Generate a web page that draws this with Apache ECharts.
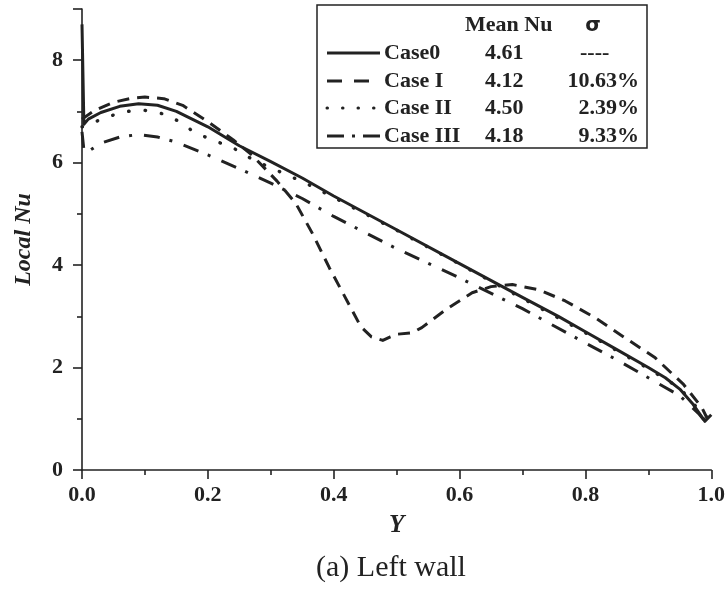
<!DOCTYPE html>
<html>
<head>
<meta charset="utf-8">
<script src="https://cdn.jsdelivr.net/npm/echarts@6/dist/echarts.min.js"></script>
<style>
html,body{margin:0;padding:0;background:#fff;}
#chart{width:728px;height:589px;}
</style>
</head>
<body>
<div id="chart"></div>
<script>
// ---- data ----
const seriesNames = ['Case0', 'Case I', 'Case II', 'Case III'];
const meanNu = ['4.61', '4.12', '4.50', '4.18'];
const sigma = ['----', '10.63%', '2.39%', '9.33%'];

const case0Y  = [0, 0.003, 0.01, 0.03, 0.06, 0.09, 0.12, 0.15, 0.2, 0.25, 0.3, 0.35, 0.4, 0.5, 0.6, 0.7, 0.757, 0.8, 0.85, 0.9, 0.927, 0.95, 0.97, 0.99, 1.0];
const case0Nu = [8.7, 6.75, 6.85, 6.98, 7.1, 7.15, 7.12, 7.0, 6.7, 6.33, 6.02, 5.7, 5.35, 4.69, 4.03, 3.37, 3.0, 2.7, 2.35, 2.0, 1.8, 1.58, 1.3, 0.95, 1.08];

const case1Y  = [0, 0.02, 0.05, 0.08, 0.1, 0.13, 0.16, 0.2, 0.24, 0.27, 0.31, 0.34, 0.367, 0.393, 0.417, 0.443, 0.46, 0.478, 0.49, 0.5, 0.525, 0.54, 0.578, 0.62, 0.65, 0.684, 0.726, 0.768, 0.816, 0.863, 0.911, 0.956, 0.985, 0.993, 1.0];
const case1Nu = [6.85, 7.02, 7.18, 7.26, 7.28, 7.25, 7.12, 6.8, 6.45, 6.15, 5.64, 5.2, 4.6, 3.95, 3.4, 2.8, 2.6, 2.53, 2.6, 2.65, 2.68, 2.78, 3.13, 3.46, 3.58, 3.62, 3.52, 3.3, 2.97, 2.58, 2.19, 1.67, 1.22, 1.02, 1.15];

const case2Y  = [0, 0.01, 0.03, 0.05, 0.07, 0.1, 0.13, 0.155, 0.18, 0.21, 0.24, 0.27, 0.3, 0.33, 0.36, 0.4, 0.45, 0.5, 0.6, 0.7, 0.8, 0.9, 0.95, 0.98, 0.99, 1.0];
const case2Nu = [6.7, 6.72, 6.85, 6.93, 7.0, 7.02, 6.95, 6.8, 6.58, 6.43, 6.29, 6.07, 5.9, 5.74, 5.57, 5.32, 5.0, 4.68, 4.02, 3.35, 2.68, 1.98, 1.6, 1.18, 0.95, 1.05];

const case3Y  = [0, 0.003, 0.01, 0.03, 0.06, 0.09, 0.12, 0.15, 0.2, 0.25, 0.3, 0.35, 0.4, 0.5, 0.6, 0.7, 0.8, 0.85, 0.9, 0.95, 0.98, 0.99, 1.0];
const case3Nu = [6.6, 6.25, 6.22, 6.38, 6.5, 6.55, 6.5, 6.4, 6.15, 5.88, 5.6, 5.3, 4.95, 4.32, 3.75, 3.15, 2.48, 2.15, 1.8, 1.45, 1.1, 0.95, 1.0];

const xTicks = [0, 0.2, 0.4, 0.6, 0.8, 1.0];
const yTicks = [0, 2, 4, 6, 8];

// ---- chart ----
const FONT = '"Liberation Serif", "Times New Roman", serif';
const zip = (xs, ys) => xs.map((x, i) => [x, ys[i]]);
const lineStyles = [
  { type: 'solid', width: 3 },
  { type: [12, 8], width: 3 },
  { type: [0.5, 16], width: 3.4, cap: 'round' },
  { type: [16, 10, 3, 12], width: 3 }
];
const legendDash = [null, [15, 12], [0.5, 15], [17, 8, 3, 8]];
const dataSets = [zip(case0Y, case0Nu), zip(case1Y, case1Nu), zip(case2Y, case2Nu), zip(case3Y, case3Nu)];

const chart = echarts.init(document.getElementById('chart'), null, { renderer: 'canvas' });

// legend graphic (box with columns)
const boxL = 317, boxT = 5, boxR = 647, boxB = 148;
const rowY = [53, 81, 108, 136];
const LFONT = 'bold 22px ' + FONT;
const graphics = [
  { type: 'rect', shape: { x: boxL, y: boxT, width: boxR - boxL, height: boxB - boxT }, style: { fill: '#fff', stroke: '#222', lineWidth: 1.5 }, z: 100 },
  { type: 'text', x: 465, y: 25, style: { text: 'Mean Nu', font: LFONT, fill: '#222', textVerticalAlign: 'middle' }, z: 101 },
  { type: 'text', x: 593, y: 26, style: { text: 'σ', font: 'bold 20px "DejaVu Sans", sans-serif', fill: '#222', textAlign: 'center', textVerticalAlign: 'middle' }, z: 101 },
  { type: 'text', x: 391, y: 568, style: { text: '(a) Left wall', font: '30px ' + FONT, fill: '#222', textAlign: 'center', textVerticalAlign: 'middle' }, z: 101 }
];
seriesNames.forEach((n, i) => {
  graphics.push({ type: 'line', shape: { x1: 327, y1: rowY[i], x2: 380, y2: rowY[i] },
    style: { stroke: '#222', lineWidth: 3, lineDash: legendDash[i], lineCap: i === 2 ? 'round' : 'butt' }, z: 101 });
  graphics.push({ type: 'text', x: 384, y: rowY[i], style: { text: n, font: LFONT, fill: '#222', textVerticalAlign: 'middle' }, z: 101 });
  graphics.push({ type: 'text', x: 485, y: rowY[i], style: { text: meanNu[i], font: LFONT, fill: '#222', textVerticalAlign: 'middle' }, z: 101 });
  graphics.push({ type: 'text', x: i === 0 ? 580 : 639, y: rowY[i], style: { text: sigma[i], font: LFONT, fill: '#222', textAlign: i === 0 ? 'left' : 'right', textVerticalAlign: 'middle' }, z: 101 });
});

chart.setOption({
  animation: false,
  backgroundColor: '#fff',
  grid: { left: 82, right: 15, top: 9, bottom: 119, containLabel: false },
  xAxis: {
    type: 'value', min: 0, max: 1, interval: 0.2,
    name: 'Y', nameLocation: 'middle', nameGap: 43,
    nameTextStyle: { fontFamily: FONT, fontWeight: 'bold', fontStyle: 'italic', fontSize: 25, color: '#222' },
    axisLine: { show: true, onZero: false, lineStyle: { color: '#222', width: 1.6 } },
    axisTick: { show: true, inside: false, length: 9, lineStyle: { color: '#222', width: 1.6 } },
    minorTick: { show: true, splitNumber: 2, length: 5, lineStyle: { color: '#222', width: 1.6 } },
    splitLine: { show: false },
    axisLabel: { margin: 14, fontFamily: FONT, fontWeight: 'bold', fontSize: 22, color: '#222',
      formatter: v => xTicks.some(t => Math.abs(t - v) < 1e-9) ? v.toFixed(1) : '' }
  },
  yAxis: {
    type: 'value', min: 0, max: 9, interval: 2,
    name: 'Local Nu', nameLocation: 'middle', nameGap: 46,
    nameTextStyle: { fontFamily: FONT, fontWeight: 'bold', fontStyle: 'italic', fontSize: 24, color: '#222' },
    axisLine: { show: true, lineStyle: { color: '#222', width: 1.6 } },
    axisTick: { show: true, inside: false, length: 9, lineStyle: { color: '#222', width: 1.6 } },
    minorTick: { show: true, splitNumber: 2, length: 5, lineStyle: { color: '#222', width: 1.6 } },
    splitLine: { show: false },
    axisLabel: { margin: 19, fontFamily: FONT, fontWeight: 'bold', fontSize: 22, color: '#222', showMaxLabel: false,
      formatter: v => yTicks.includes(v) ? String(v) : '' }
  },
  graphic: graphics,
  series: dataSets.map((d, i) => ({
    name: seriesNames[i], type: 'line', data: d, showSymbol: false, symbol: 'none', smooth: false,
    lineStyle: { color: '#222', width: lineStyles[i].width, type: lineStyles[i].type, cap: lineStyles[i].cap || 'butt', join: 'round' },
    z: 10 - i
  }))
});
</script>
</body>
</html>
